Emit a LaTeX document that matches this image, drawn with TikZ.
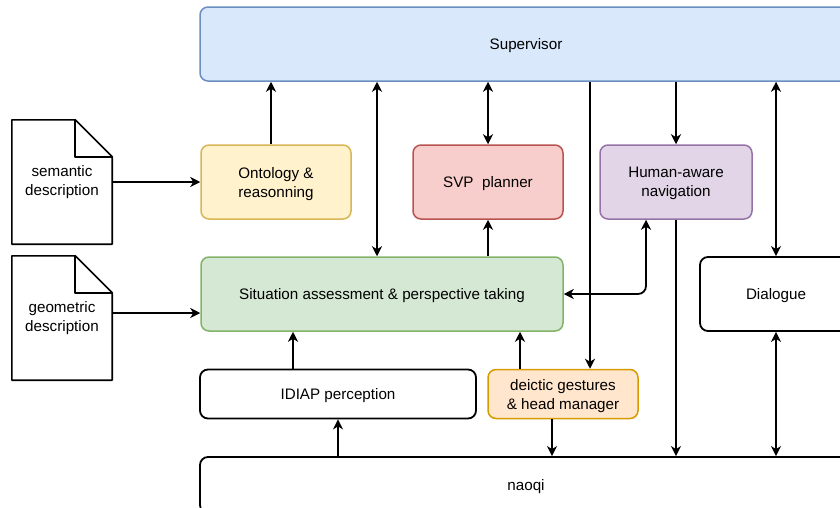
\documentclass[tikz,border=0pt]{standalone}
\usepackage{fontspec}
\setmainfont{Liberation Sans}
\usetikzlibrary{calc}
\usetikzlibrary{arrows.meta}

\definecolor{supfill}{HTML}{DAE8FC}
\definecolor{supline}{HTML}{6C8EBF}
\definecolor{ontfill}{HTML}{FFF2CC}
\definecolor{ontline}{HTML}{D6B656}
\definecolor{svpfill}{HTML}{F8CECC}
\definecolor{svpline}{HTML}{B85450}
\definecolor{navfill}{HTML}{E1D5E7}
\definecolor{navline}{HTML}{9673A6}
\definecolor{sitfill}{HTML}{D5E8D4}
\definecolor{sitline}{HTML}{82B366}
\definecolor{deifill}{HTML}{FFE6CC}
\definecolor{deiline}{HTML}{D79B00}

\tikzset{
  box/.style={draw, line width=1.5pt, rounded corners=8pt, align=center,
    inner sep=0pt, text depth=0pt, font=\fontsize{15.2}{19}\selectfont},
  docu/.style={align=center, inner sep=0pt, minimum width=100pt,
    minimum height=124pt, font=\fontsize{15.2}{19}\selectfont},
  arr/.style={line width=1.8pt, -{Stealth[length=10pt,width=10pt,inset=3pt]}},
  darr/.style={line width=1.8pt,
    {Stealth[length=10pt,width=10pt,inset=3pt]}-{Stealth[length=10pt,width=10pt,inset=3pt]}}
}

\begin{document}
\begin{tikzpicture}[x=1pt,y=-1pt]
  \useasboundingbox (0,0) rectangle (840,507);
  \clip (0,0) rectangle (840,507);

  % blocks
  \node[box, fill=supfill, draw=supline, minimum width=652pt, minimum height=74pt] (sup) at (526,44) {Supervisor};
  \node[box, fill=ontfill, draw=ontline, minimum width=150pt, minimum height=74pt] (onto) at (276,182) {Ontology \&\\reasonning};
  \node[box, fill=svpfill, draw=svpline, minimum width=150pt, minimum height=74pt] (svp) at (488,182) {SVP\ \ planner};
  \node[box, fill=navfill, draw=navline, minimum width=152pt, minimum height=74pt] (hum) at (676,182) {Human-aware\\navigation};
  \node[box, fill=sitfill, draw=sitline, minimum width=362pt, minimum height=74pt] (sit) at (382,294) {Situation assessment \& perspective taking};
  \node[box, line width=1.8pt, minimum width=152pt, minimum height=74pt] (dial) at (776,294) {Dialogue};
  \node[box, line width=1.8pt, minimum width=276pt, minimum height=49pt] (idiap) at (338,394) {IDIAP perception};
  \node[box, fill=deifill, draw=deiline, minimum width=150pt, minimum height=49pt] (dei) at (563,394) {deictic gestures\\\& head manager};
  \node[box, line width=1.8pt, minimum width=652pt, minimum height=56pt] (naoqi) at (526,485) {naoqi};

  % documents
  \node[docu] (sem) at (62,182) {semantic\\description};
  \node[docu] (geo) at (62,318) {geometric\\description};
  \foreach \d in {sem,geo}{
    \draw[line width=1.6pt, line join=round] (\d.north west) -- ($(\d.north east)+(-37,0)$)
      -- ($(\d.north east)+(0,37)$) -- (\d.south east) -- (\d.south west) -- cycle;
    \draw[line width=1.6pt, line join=round] ($(\d.north east)+(-37,0)$) -- ($(\d.north east)+(-37,37)$)
      -- ($(\d.north east)+(0,37)$);
  }

  % columns
  \coordinate (c1) at (271,0);
  \coordinate (c2) at (377,0);
  \coordinate (c4) at (590,0);
  \coordinate (c7) at (293,0);
  \coordinate (c8) at (520,0);
  \coordinate (c10) at (552,0);
  \coordinate (c11) at (646,0);

  % connectors
  \draw[arr] (sem.east) -- (onto.west);
  \draw[arr] ([yshift=5pt]geo.east) -- ([yshift=5pt]geo.east -| sit.west);
  \draw[arr] (c1 |- onto.north) -- (c1 |- sup.south);
  \draw[darr] (c2 |- sit.north) -- (c2 |- sup.south);
  \draw[darr] (svp.north) -- (svp.north |- sup.south);
  \draw[arr] (sit.north -| svp.south) -- (svp.south);
  \draw[arr] (c4 |- sup.south) -- (c4 |- dei.north);
  \draw[arr] (hum.north |- sup.south) -- (hum.north);
  \draw[darr] (dial.north) -- (dial.north |- sup.south);
  \draw[darr, rounded corners=8pt] (sit.east) -| (c11 |- hum.south);
  \draw[arr] (hum.south) -- (hum.south |- naoqi.north);
  \draw[arr] (c7 |- idiap.north) -- (c7 |- sit.south);
  \draw[arr] (c8 |- dei.north) -- (c8 |- sit.south);
  \draw[arr] (idiap.south |- naoqi.north) -- (idiap.south);
  \draw[arr] (c10 |- dei.south) -- (c10 |- naoqi.north);
  \draw[darr] (dial.south) -- (dial.south |- naoqi.north);
\end{tikzpicture}
\end{document}
